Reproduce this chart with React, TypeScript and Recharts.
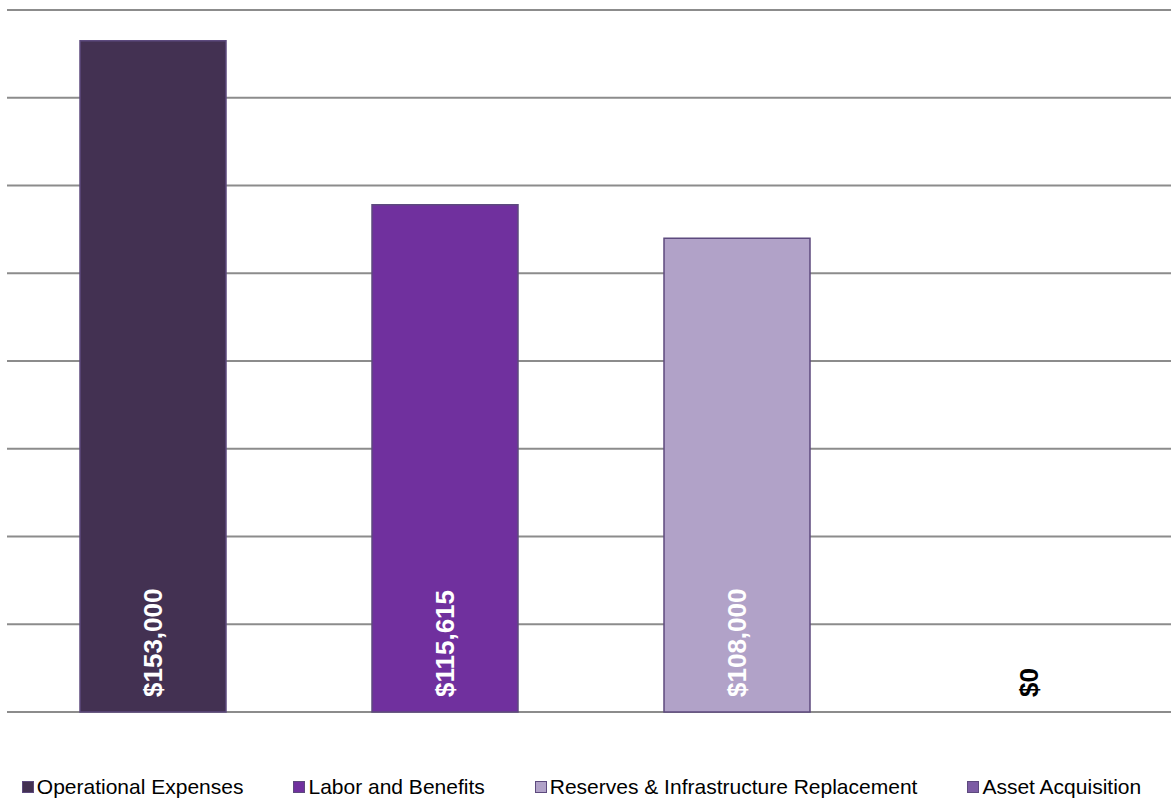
import React from 'react';
import { BarChart, Bar, XAxis, YAxis, CartesianGrid, Legend, LabelList } from 'recharts';

const categories = ['Budget'];
const seriesNames = ['Operational Expenses', 'Labor and Benefits', 'Reserves & Infrastructure Replacement', 'Asset Acquisition'];
const seriesKeys = ['op', 'labor', 'reserves', 'asset'];
const seriesValues = [153000, 115615, 108000, 0];
const seriesColors = ['#433152', '#70309e', '#b1a2c8', '#7c5ca4'];
const labelColors = ['#ffffff', '#ffffff', '#ffffff', '#000000'];
const yTicks = [0, 20000, 40000, 60000, 80000, 100000, 120000, 140000, 160000];

const data = categories.map((c) => {
  const row: Record<string, any> = { name: c };
  seriesKeys.forEach((k, i) => (row[k] = seriesValues[i]));
  return row;
});

const fmt = (v: number) => '$' + v.toLocaleString('en-US');

const makeLabel = (color: string) => (props: any) => {
  const { x, y, width, height, value } = props;
  const cx = Number(x) + Number(width) / 2;
  const by = Number(y) + Number(height) - 15;
  return (
    <text
      x={cx}
      y={by}
      transform={`rotate(-90 ${cx} ${by})`}
      textAnchor="start"
      dominantBaseline="central"
      fill={color}
      fontFamily="'Liberation Sans', Arial, sans-serif"
      fontWeight="bold"
      fontSize={26}
    >
      {fmt(Number(value))}
    </text>
  );
};

const LegendContent = () => (
  <div
    style={{
      display: 'flex',
      justifyContent: 'center',
      alignItems: 'center',
      height: 30,
      gap: 50,
      paddingRight: 8,
      boxSizing: 'border-box',
      fontFamily: "'Liberation Sans', Arial, sans-serif",
      fontSize: 21,
      color: '#000',
    }}
  >
    {seriesNames.map((n, i) => (
      <div key={n} style={{ display: 'flex', alignItems: 'center', whiteSpace: 'nowrap' }}>
        <span
          style={{
            display: 'inline-block',
            width: 10,
            height: 10,
            background: seriesColors[i],
            border: '1px solid #5d4a7e',
            marginRight: 3,
          }}
        />
        <span>{n}</span>
      </div>
    ))}
  </div>
);

export default function App() {
  return (
    <div style={{ position: 'absolute', left: 0, top: 0, width: 1171, height: 802, background: '#fff' }}>
      <BarChart
        width={1171}
        height={802}
        data={data}
        margin={{ top: 10, right: -4, bottom: 60, left: 7 }}
        barGap={146}
        barSize={146}
      >
        <CartesianGrid vertical={false} stroke="#8c8c8c" strokeWidth={2} />
        <XAxis dataKey="name" hide />
        <YAxis hide domain={[0, 160000]} ticks={yTicks} />
        <Legend
          verticalAlign="bottom"
          height={30}
          wrapperStyle={{ bottom: 0, left: 0, width: 1171 }}
          content={<LegendContent />}
        />
        {seriesKeys.map((k, i) => (
          <Bar
            key={k}
            dataKey={k}
            name={seriesNames[i]}
            fill={seriesColors[i]}
            stroke="#5d4a7e"
            strokeWidth={seriesValues[i] === 0 ? 0 : 1.5}
            minPointSize={seriesValues[i] === 0 ? 0.01 : 0}
            isAnimationActive={false}
          >
            <LabelList dataKey={k} content={makeLabel(labelColors[i])} />
          </Bar>
        ))}
      </BarChart>
    </div>
  );
}
